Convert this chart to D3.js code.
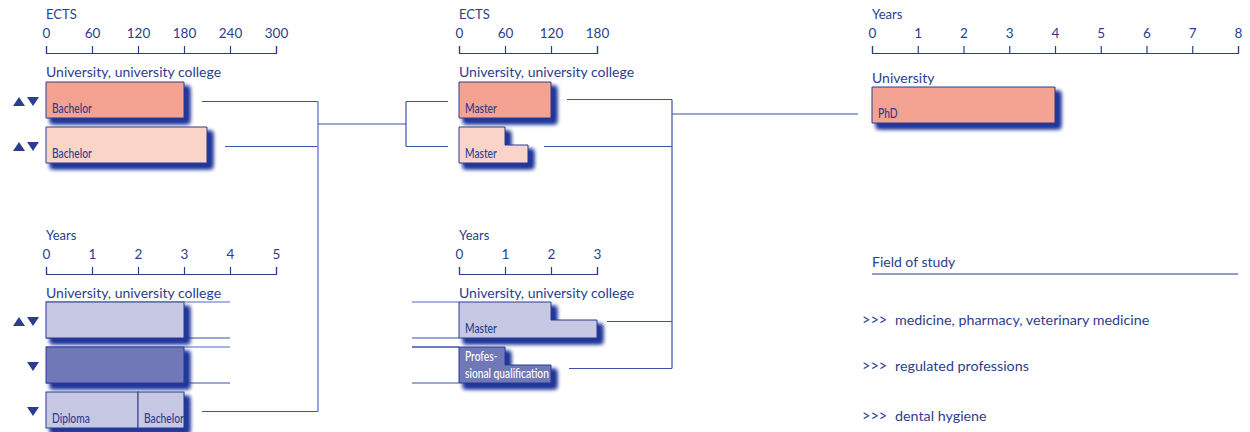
<!DOCTYPE html>
<html><head><meta charset="utf-8">
<script src="https://cdn.jsdelivr.net/npm/d3@7"></script>
<style>
html,body{margin:0;padding:0;background:#fff;}
svg{display:block;font-family:Lato,"Open Sans",sans-serif;}
</style></head>
<body><svg id="c" width="1250" height="432"></svg>
<script>
// ---------- data ----------
const ectsTicksBachelor = [0, 60, 120, 180, 240, 300];
const yearsTicksBachelor = [0, 1, 2, 3, 4, 5];
const ectsTicksMaster = [0, 60, 120, 180];
const yearsTicksMaster = [0, 1, 2, 3];
const yearsTicksPhd = [0, 1, 2, 3, 4, 5, 6, 7, 8];

const institutionLabel = "University, university college";
const phdInstitution = "University";

// ECTS bars: top / bottom length (step shapes when they differ)
const bachelorEctsBars = [
  { label: ["Bachelor"], top: 180, bottom: 180, fill: "salmon", marks: "updown" },
  { label: ["Bachelor"], top: 210, bottom: 210, fill: "pale", marks: "updown" }
];
const masterEctsBars = [
  { label: ["Master"], top: 120, bottom: 120, fill: "salmon" },
  { label: ["Master"], top: 60, bottom: 90, fill: "pale" }
];
// Years bars
const bachelorYearsBars = [
  { segments: [{ label: "", from: 0, to: 3 }], fill: "lavender", marks: "updown" },
  { segments: [{ label: "", from: 0, to: 3 }], fill: "slate", marks: "down" },
  { segments: [{ label: "Diploma", from: 0, to: 2 }, { label: "Bachelor", from: 2, to: 3 }], fill: "lavender", marks: "down" }
];
const bachelorYearsGuide = 4;   // guide lines run to 4 years
const masterYearsBars = [
  { label: ["Master"], top: 2, bottom: 3, fill: "lavender" },
  { label: ["Profes-", "sional qualification"], top: 1, bottom: 2, fill: "slate", white: true }
];
const phdBars = [{ label: ["PhD"], top: 4, bottom: 4, fill: "salmon" }];

const fieldTitle = "Field of study";
const fieldsOfStudy = ["medicine, pharmacy, veterinary medicine", "regulated professions", "dental hygiene"];

// ---------- styles ----------
const BLUE = "#2b3d8f";
const LINE = "#3a52a8";
const LIGHT = "#8a9bd6";
const FILLS = { salmon: "#f4a291", pale: "#fad4c8", lavender: "#c6c8e4", slate: "#6f78b7" };

const svg = d3.select("#c");
const defs = svg.append("defs");
const f = defs.append("filter").attr("id", "sh").attr("x", "-10%").attr("y", "-20%").attr("width", "130%").attr("height", "150%");
f.append("feOffset").attr("in", "SourceAlpha").attr("dx", 5).attr("dy", 5).attr("result", "o");
f.append("feGaussianBlur").attr("in", "o").attr("stdDeviation", 1.9).attr("result", "b");
f.append("feFlood").attr("flood-color", "#22369a").attr("result", "fc");
f.append("feComposite").attr("in", "fc").attr("in2", "b").attr("operator", "in").attr("result", "s");
const fm = f.append("feMerge");
fm.append("feMergeNode").attr("in", "s");
fm.append("feMergeNode").attr("in", "s");
fm.append("feMergeNode").attr("in", "SourceGraphic");

const gLines = svg.append("g");
const gBars = svg.append("g");
const gText = svg.append("g");

// ---------- scales ----------
const xBE = d3.scaleLinear().domain([0, 300]).range([46, 276]);
const xBY = d3.scaleLinear().domain([0, 5]).range([46, 276]);
const xME = d3.scaleLinear().domain([0, 180]).range([459, 597]);
const xMY = d3.scaleLinear().domain([0, 3]).range([459, 597]);
const xP = d3.scaleLinear().domain([0, 8]).range([872, 1238]);

const BAR_H = 36, GAP = 9;
const topRow0 = 82, botRow0 = 302;
const rowY = (r0, i) => r0 + i * (BAR_H + GAP);

function axis(x, ticks, y, title) {
  const g = gText.append("g").attr("transform", `translate(0,${y})`)
    .call(d3.axisTop(x).tickValues(ticks).tickSize(7).tickSizeOuter(7).tickPadding(8).tickFormat(d3.format("d")));
  g.selectAll("path,line").attr("stroke", BLUE).attr("stroke-width", 1.2);
  g.selectAll("text").attr("fill", BLUE).attr("font-size", 13.5).attr("font-family", "Lato");
  gText.append("text").attr("x", x.range()[0]).attr("y", y - 34).attr("fill", BLUE)
    .attr("font-size", 13).text(title);
}
axis(xBE, ectsTicksBachelor, 53, "ECTS");
axis(xME, ectsTicksMaster, 53, "ECTS");
axis(xP, yearsTicksPhd, 53, "Years");
axis(xBY, yearsTicksBachelor, 274, "Years");
axis(xMY, yearsTicksMaster, 274, "Years");

function inst(x, y, t) {
  gText.append("text").attr("x", x).attr("y", y).attr("fill", BLUE).attr("font-size", 14).text(t);
}
inst(xBE(0), 77, institutionLabel);
inst(xME(0), 77, institutionLabel);
inst(xBY(0), 298, institutionLabel);
inst(xMY(0), 298, institutionLabel);
inst(xP(0), 83, phdInstitution);

function stepPath(x, top, bottom, y0) {
  const y1 = y0 + BAR_H, ym = y0 + BAR_H / 2;
  const p = d3.path();
  p.moveTo(x(0), y0); p.lineTo(x(top), y0); p.lineTo(x(top), ym);
  p.lineTo(x(bottom), ym); p.lineTo(x(bottom), y1); p.lineTo(x(0), y1); p.closePath();
  return p.toString();
}
function barLabel(x0, y0, lines, white) {
  const y1 = y0 + BAR_H;
  lines.forEach((t, k) => {
    const yy = y1 - 5 - (lines.length - 1 - k) * 17;
    gText.append("text").attr("transform", `translate(${x0 + 6},${yy}) scale(0.8,1)`)
      .attr("fill", white ? "#fff" : BLUE).attr("font-size", 12.8).attr("font-weight", 500).text(t);
  });
}
function drawStepBars(x, bars, r0) {
  bars.forEach((b, i) => {
    const y0 = rowY(r0, i);
    gBars.append("path").attr("d", stepPath(x, b.top, b.bottom, y0))
      .attr("fill", FILLS[b.fill]).attr("stroke", BLUE).attr("stroke-width", 1).attr("filter", "url(#sh)");
    barLabel(x(0), y0, b.label, b.white);
  });
}
function marks(kind, y0) {
  const cy = y0 + BAR_H / 2 + 1.5, w = 12, h = 9;
  const up = (cx) => { const p = d3.path(); p.moveTo(cx - w / 2, cy + h / 2); p.lineTo(cx + w / 2, cy + h / 2); p.lineTo(cx, cy - h / 2); p.closePath(); return p.toString(); };
  const dn = (cx) => { const p = d3.path(); p.moveTo(cx - w / 2, cy - h / 2); p.lineTo(cx + w / 2, cy - h / 2); p.lineTo(cx, cy + h / 2); p.closePath(); return p.toString(); };
  if (kind === "updown") gText.append("path").attr("d", up(19)).attr("fill", BLUE);
  gText.append("path").attr("d", dn(33)).attr("fill", BLUE);
}

drawStepBars(xBE, bachelorEctsBars, topRow0);
bachelorEctsBars.forEach((b, i) => marks(b.marks, rowY(topRow0, i)));
drawStepBars(xME, masterEctsBars, topRow0);
drawStepBars(xMY, masterYearsBars, botRow0);
drawStepBars(xP, phdBars, topRow0 + 5);

// bachelor years bars with segments
bachelorYearsBars.forEach((b, i) => {
  const y0 = rowY(botRow0, i);
  const g = gBars.append("g").attr("filter", "url(#sh)");
  b.segments.forEach(s => {
    g.append("rect").attr("x", xBY(s.from)).attr("y", y0).attr("width", xBY(s.to) - xBY(s.from)).attr("height", BAR_H)
      .attr("fill", FILLS[b.fill]).attr("stroke", BLUE).attr("stroke-width", 1);
    if (s.label) barLabel(xBY(s.from), y0, [s.label], false);
  });
  marks(b.marks, y0);
});

// ---------- guide lines ----------
function hline(x1, x2, y, c, w) {
  gLines.append("line").attr("x1", x1).attr("x2", x2).attr("y1", y).attr("y2", y)
    .attr("stroke", c || LINE).attr("stroke-width", w || 1.2);
}
function vline(x, y1, y2, c, w) {
  gLines.append("line").attr("x1", x).attr("x2", x).attr("y1", y1).attr("y2", y2)
    .attr("stroke", c || LINE).attr("stroke-width", w || 1.2);
}
[0, 1].forEach(i => {
  const y0 = rowY(botRow0, i);
  hline(xBY(0), xBY(bachelorYearsGuide), y0, LIGHT, 1.4);
  hline(xBY(0), xBY(bachelorYearsGuide), y0 + BAR_H, LINE, 1.2);
  hline(412, xMY(0), y0, i === 0 ? LIGHT : LINE, 1.3);
  hline(412, xMY(0), y0 + BAR_H, LINE, 1.2);
});

// ---------- connectors ----------
const J1 = 318, J2 = 406, J3 = 672, GAPX = 18;
const cY = (r0, i) => rowY(r0, i) + BAR_H / 2 + 1.5;
const bA = bachelorEctsBars.map((b, i) => ({ x: xBE(b.bottom) + GAPX, y: cY(topRow0, i) }));
const bB = { x: xBY(d3.max(bachelorYearsBars[2].segments, s => s.to)) + GAPX, y: cY(botRow0, 2) };
hline(bA[0].x, J1, bA[0].y, LINE);
hline(bA[1].x, J1, bA[1].y, LINE);
hline(bB.x, J1, bB.y, LINE);
vline(J1, bA[0].y, bB.y, LIGHT, 1.8);
const mid = (bA[0].y + bA[1].y) / 2;
hline(J1, J2, mid, LINE);
vline(J2, bA[0].y, bA[1].y, LINE);
hline(J2, xME(0) - 11, bA[0].y, LINE);
hline(J2, xME(0) - 11, bA[1].y, LINE);

const mOut = masterEctsBars.map((b, i) => ({ x: xME(Math.max(b.top, b.bottom)) + 16, y: cY(topRow0, i) - (i === 0 ? 2 : 0) }))
  .concat(masterYearsBars.map((b, i) => ({ x: xMY(Math.max(b.top, b.bottom)) + (i === 0 ? 10 : 18), y: cY(botRow0, i) + (i === 0 ? 0 : 2) })));
mOut.forEach(p => hline(p.x, J3, p.y, LINE));
vline(J3, mOut[0].y, mOut[3].y, LINE);
hline(J3, xP(0) - 14, 114, LINE);

// ---------- field of study ----------
gText.append("text").attr("x", xP(0)).attr("y", 267).attr("fill", BLUE).attr("font-size", 14).text(fieldTitle);
hline(xP(0), xP(8), 274, BLUE, 1.2);
fieldsOfStudy.forEach((t, i) => {
  const y = [325, 371, 421][i];
  gText.append("text").attr("x", 862).attr("y", y).attr("fill", BLUE).attr("font-size", 14.5).text(">>>");
  gText.append("text").attr("x", 895).attr("y", y).attr("fill", BLUE).attr("font-size", 14.3).text(t);
});
</script></body></html>
